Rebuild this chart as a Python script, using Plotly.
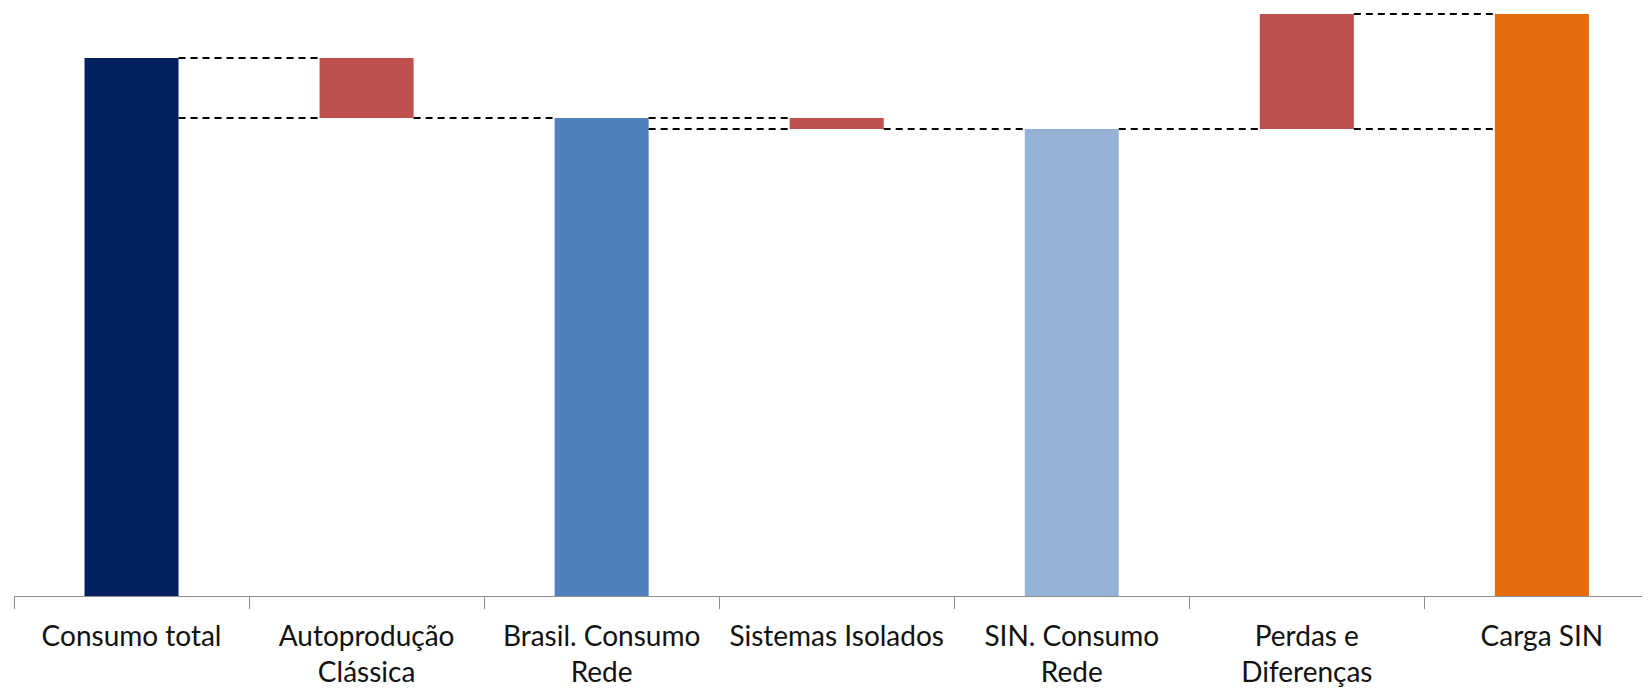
import plotly.graph_objects as go

# ---- data (arbitrary units) ----
categories = ["Consumo total", "Autoprodução<br>Clássica", "Brasil. Consumo<br>Rede",
              "Sistemas Isolados", "SIN. Consumo<br>Rede", "Perdas e<br>Diferenças", "Carga SIN"]
measures = ["total", "delta", "total", "delta", "total", "delta", "total"]
values = [538, -60, 478, -11, 467, 115, 582]
colors = ["#002060", "#C0504D", "#4F81BD", "#C0504D", "#95B3D7", "#C0504D", "#E46C0A"]

# ---- build bar bases / heights ----
bases, heights, levels = [], [], []
running = 0
for m, v in zip(measures, values):
    if m == "total":
        start, end = 0, v
        running = v
    else:
        start, end = running, running + v
        running = end
    bases.append(min(start, end))
    heights.append(abs(end - start))
    levels.append((start, end))

fig = go.Figure()
fig.add_trace(go.Bar(
    x=categories, y=heights, base=bases, width=0.4,
    marker=dict(color=colors, line=dict(width=0)),
    hoverinfo="skip", showlegend=False,
))

# connector (dashed) lines in the gaps around each delta bar
half = 0.2
for i, m in enumerate(measures):
    if m != "delta":
        continue
    start, end = levels[i]
    low = min(start, end)
    gaps = [(i - 1, {start, low}), (i, {end, low})]
    for g, lv in gaps:
        if g < 0 or g + 1 >= len(categories):
            continue
        for y in sorted(lv):
            fig.add_trace(go.Scatter(
                x=[g + half, g + 1 - half], y=[y, y], mode="lines",
                line=dict(color="#000000", width=2, dash="7px,5px"),
                hoverinfo="skip", showlegend=False, xaxis="x2",
            ))

fig.update_layout(
    width=1642, height=681,
    margin=dict(l=6, r=0, t=0, b=93, autoexpand=False),
    paper_bgcolor="white", plot_bgcolor="white",
    xaxis=dict(
        type="category", range=[-0.5, 6.46],
        showline=True, linecolor="#8E8E8E", linewidth=1,
        ticks="outside", ticklen=12, tickcolor="#8E8E8E", tickwidth=1,
        tickson="boundaries", showgrid=False, zeroline=False,
        tickfont=dict(family="Lato", size=28, color="#111111"),
        ticklabelstandoff=15, automargin=False,
    ),
    xaxis2=dict(overlaying="x", range=[-0.5, 6.46], visible=False),
    yaxis=dict(range=[0, 588], visible=False, showgrid=False, zeroline=False),
)

fig.write_html("out.html")
